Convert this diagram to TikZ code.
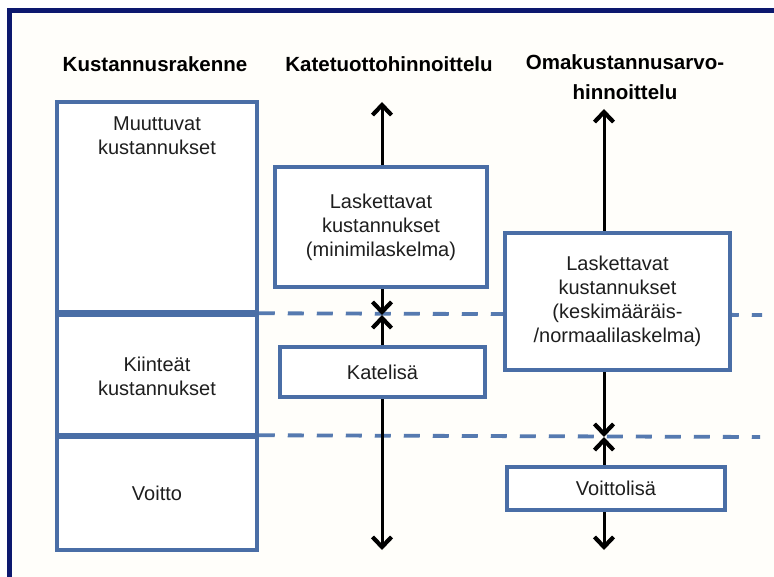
\documentclass[tikz,border=0pt]{standalone}
\usepackage{fontspec}
\setmainfont{Liberation Sans}
\usetikzlibrary{arrows.meta}
\definecolor{navy}{RGB}{12,24,110}
\definecolor{boxblue}{RGB}{74,110,166}
\definecolor{dashblue}{RGB}{86,122,176}
\definecolor{bgcream}{RGB}{255,254,250}
\definecolor{txt}{RGB}{30,30,30}
\pgfdeclarelayer{framelayer}
\pgfdeclarelayer{bglayer}
\pgfsetlayers{framelayer,bglayer,main}
\begin{document}
\begin{tikzpicture}[x=1pt,y=-1pt,
  box/.style={draw=boxblue, line width=3.5pt, fill=white, inner sep=0pt, align=center,
    font=\fontsize{20}{24}\selectfont, text=txt},
  ttl/.style={font=\bfseries\fontsize{20.5}{30}\selectfont, align=center, inner sep=0pt},
  lbl/.style={align=center, font=\fontsize{20}{24}\selectfont, text=txt, inner sep=0pt},
  arr/.style={line width=3pt, -{Straight Barb[length=10pt,width=19pt,line width=4.2pt]}},
  dashline/.style={dashblue, line width=3.8pt, dash pattern=on 16pt off 13pt}]
\useasboundingbox (0,0) rectangle (774,577);
\begin{pgfonlayer}{framelayer}
\fill[white] (0,0) rectangle (774,577);
\draw[navy, line width=5pt, fill=bgcream] (9.5,10.5) rectangle (800,600);
\end{pgfonlayer}

% titles
\node[ttl] (t1) at (155,64) {Kustannusrakenne};
\node[ttl] (t2) at (389,64) {Katetuottohinnoittelu};
\node[ttl] (t3) at (625,77) {Omakustannusarvo-\\hinnoittelu};

% cost structure column
\node[box, minimum width=200pt, minimum height=213pt] (muut) at (157,208.5) {};
\node[lbl] (muutT) at (157,136) {Muuttuvat\\kustannukset};
\node[box, minimum width=200pt, minimum height=122pt] (kiint) at (157,376) {Kiinteät\\kustannukset};
\node[box, minimum width=200pt, minimum height=113pt] (voitto) at (157,493.5) {Voitto};
\draw[boxblue, line width=5.5pt] (kiint.north west) -- (kiint.north east);
\draw[boxblue, line width=5.5pt] (voitto.north west) -- (voitto.north east);

% contribution pricing column
\node[box, minimum width=212pt, minimum height=120pt] (lask1) at (381,227) {Laskettavat\\kustannukset\\(minimilaskelma)};
\node[box, minimum width=205pt, minimum height=50pt] (kate) at (382.5,372) {Katelisä};

% full cost pricing column
\node[box, minimum width=225pt, minimum height=137pt] (lask2) at (617.5,301.5) {Laskettavat\\kustannukset\\(keskimääräis-\\/normaalilaskelma)};
\node[box, minimum width=218pt, minimum height=43pt] (voitl) at (616,488.5) {Voittolisä};

\coordinate (top1) at (382,102);
\coordinate (mid1) at (382,315);
\coordinate (bot1) at (382,550);
\coordinate (top2) at (604,109);
\coordinate (mid2) at (604,437);
\coordinate (bot2) at (604,550);
\coordinate (dash1) at (762,315);
\coordinate (dash2) at (760,437);

\begin{pgfonlayer}{bglayer}
\draw[dashline] (kiint.north east) -- (dash1);
\draw[dashline] (voitto.north east) -- (dash2);
\draw[arr] (lask1.north -| top1) -- (top1);
\draw[arr] (lask1.south -| top1) -- (mid1);
\draw[arr] (kate.north -| top1) -- (mid1);
\draw[arr] (kate.south -| top1) -- (bot1);
\draw[arr] (lask2.north -| top2) -- (top2);
\draw[arr] (lask2.south -| top2) -- (mid2);
\draw[arr] (voitl.north -| top2) -- (mid2);
\draw[arr] (voitl.south -| top2) -- (bot2);
\end{pgfonlayer}
\end{tikzpicture}
\end{document}
